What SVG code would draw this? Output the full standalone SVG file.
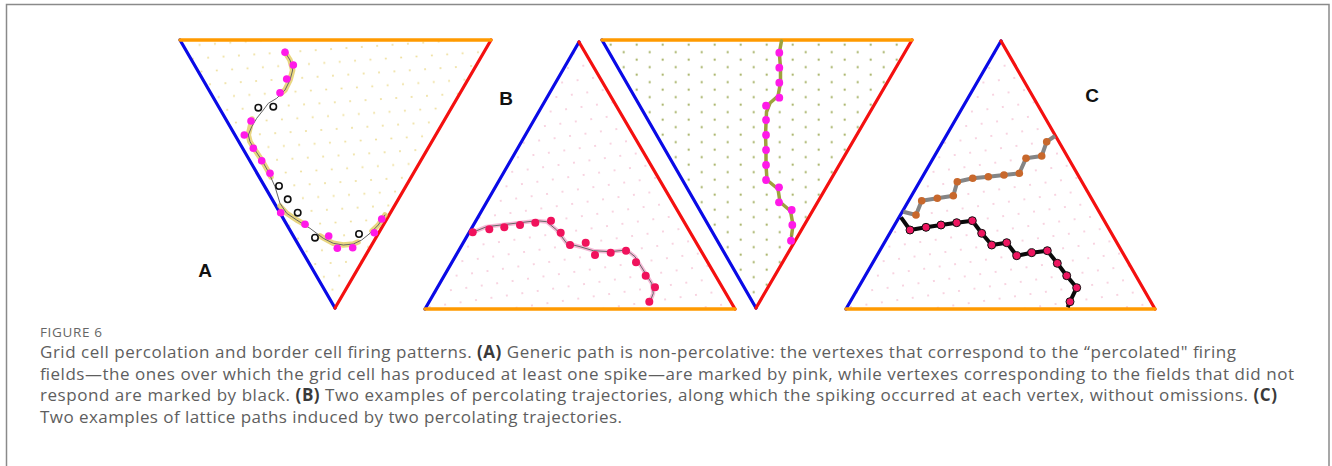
<svg xmlns="http://www.w3.org/2000/svg" width="1332" height="466" viewBox="0 0 1332 466">
<style>
.frame{fill:none;stroke:#8a8a8a;stroke-width:1.5}
.eo{stroke:#ff9a00;stroke-width:3.5;stroke-linecap:round}
.eb{stroke:#0a0ae6;stroke-width:3.2;stroke-linecap:round}
.er{stroke:#f41010;stroke-width:3.2;stroke-linecap:round}
.lbl{font-family:"Liberation Sans",Arial,sans-serif;font-weight:bold;font-size:19px;fill:#111;text-anchor:middle}
.cap{font-family:"Open Sans","Liberation Sans",sans-serif;font-size:17px;fill:#5e5e5e}
.b{font-weight:bold;fill:#3a3a3a}
.fig{font-family:"Open Sans","Liberation Sans",sans-serif;font-size:13.5px;fill:#666}
.thin{fill:none;stroke:#666;stroke-width:1;stroke-linejoin:round;stroke-linecap:round}
.hlY{fill:none;stroke:#e4cc62;stroke-width:5.5;stroke-opacity:0.8;stroke-linejoin:round;stroke-linecap:round}
.hlP{fill:none;stroke:#f2a8cc;stroke-width:4;stroke-opacity:0.8;stroke-linejoin:round;stroke-linecap:round}
.hlO{fill:none;stroke:#9ea23c;stroke-width:3.5;stroke-linejoin:round;stroke-linecap:round}
.pm{fill:#ff1ae8}
.po{fill:#fff;stroke:#111;stroke-width:1.6}
.pc{fill:#f0125c}
.pathG{fill:none;stroke:#858585;stroke-width:4;stroke-linejoin:round}
.pathK{fill:none;stroke:#0a0a0a;stroke-width:4;stroke-linejoin:round}
.db{fill:#c8682c}
.dk{fill:#ee1660;stroke:#111;stroke-width:1}
</style>
<defs>
<pattern id="latA" width="15.4" height="26.67" patternUnits="userSpaceOnUse" patternTransform="translate(285 52.3) rotate(-4)">
<g fill="#efe0a0"><circle cx="0" cy="0" r="1.1"/><circle cx="15.4" cy="0" r="1.1"/><circle cx="0" cy="26.67" r="1.1"/><circle cx="15.4" cy="26.67" r="1.1"/><circle cx="7.7" cy="13.34" r="1.1"/></g>
</pattern>
<pattern id="latBL" width="15.6" height="27.02" patternUnits="userSpaceOnUse" patternTransform="translate(551 220.7) rotate(-8.4)">
<g fill="#f6c4d6"><circle cx="0" cy="0" r="1"/><circle cx="15.6" cy="0" r="1"/><circle cx="0" cy="27.02" r="1"/><circle cx="15.6" cy="27.02" r="1"/><circle cx="7.8" cy="13.51" r="1"/></g>
</pattern>
<pattern id="latC" width="15.6" height="27.02" patternUnits="userSpaceOnUse" patternTransform="translate(972.3 220.7) rotate(-8.4)">
<g fill="#f6c4d6"><circle cx="0" cy="0" r="1"/><circle cx="15.6" cy="0" r="1"/><circle cx="0" cy="27.02" r="1"/><circle cx="15.6" cy="27.02" r="1"/><circle cx="7.8" cy="13.51" r="1"/></g>
</pattern>
<pattern id="latBR" width="26" height="15" patternUnits="userSpaceOnUse" patternTransform="translate(610.7 44.7)">
<g fill="#a9b46a"><circle cx="0" cy="0" r="1.15"/><circle cx="26" cy="0" r="1.15"/><circle cx="0" cy="15" r="1.15"/><circle cx="26" cy="15" r="1.15"/><circle cx="13" cy="7.5" r="1.15"/></g>
</pattern>
</defs>

<rect class="frame" x="6.5" y="4.5" width="1322.5" height="480"/>

<g id="panelA">
<polygon points="180,40 491,40 335,308" fill="url(#latA)"/>
<line class="eb" x1="180" y1="40" x2="335" y2="308"/>
<line class="er" x1="491" y1="40" x2="335" y2="308"/>
<line class="eo" x1="180" y1="40" x2="491" y2="40"/>
<text class="lbl" x="205" y="277">A</text>
</g>

<g id="panelB1">
<polygon points="579,42 425,309 735,309" fill="url(#latBL)"/>
<line class="eb" x1="579" y1="42" x2="425" y2="309"/>
<line class="er" x1="579" y1="42" x2="735" y2="309"/>
<line class="eo" x1="425" y1="309" x2="735" y2="309"/>
<text class="lbl" x="506" y="105">B</text>
</g>

<g id="panelB2">
<polygon points="602,40 912,40 756,308" fill="url(#latBR)"/>
<line class="eb" x1="602" y1="40" x2="756" y2="308"/>
<line class="er" x1="912" y1="40" x2="756" y2="308"/>
<line class="eo" x1="602" y1="40" x2="912" y2="40"/>
</g>

<g id="panelC">
<polygon points="1001,41 846,309 1155,309" fill="url(#latC)"/>
<line class="eb" x1="1001" y1="41" x2="846" y2="309"/>
<line class="er" x1="1001" y1="41" x2="1155" y2="309"/>
<line class="eo" x1="846" y1="309" x2="1155" y2="309"/>
<text class="lbl" x="1092" y="102">C</text>
</g>

<g id="connectors">
<!-- Panel A trajectory -->
<polyline class="hlY" points="285,52.3 290,60 292.7,70 290,80 285,90 280,94"/>
<polyline class="hlY" points="252,119 248.3,135 250,141.7 255,150 261.7,160 268.3,171.7 271,177"/>
<polyline class="hlY" points="280,206 286.7,213.3 296.7,220 306,225"/>
<polyline class="hlY" points="320,236 333.3,243.3 343.3,245 353.3,244 358,242"/>
<polyline class="hlY" points="372,231 378.3,225 385,215"/>
<polyline class="thin" points="285,49 285,52.3 290,60 292.7,70 290,80 285,90 276.7,98.3 268.3,103.3 263.3,110 256.7,118.3 251.7,126.7 248.3,135 250,141.7 255,150 261.7,160 268.3,171.7 275,186.7 280,203.3 286.7,213.3 296.7,220 310,228.3 323.3,238.3 333.3,243.3 343.3,245 353.3,244 361.7,240 370,233.3 378.3,225 385,215"/>
<g class="pm">
<circle cx="285" cy="52.3" r="3.8"/><circle cx="293.3" cy="65" r="3.8"/><circle cx="286.7" cy="79" r="3.8"/><circle cx="280" cy="92.7" r="3.8"/>
<circle cx="251" cy="121" r="3.8"/><circle cx="244.3" cy="135" r="3.8"/><circle cx="253.3" cy="148.3" r="3.8"/><circle cx="261.7" cy="160.7" r="3.8"/><circle cx="270" cy="173.3" r="3.8"/>
<circle cx="280.7" cy="212.7" r="3.8"/><circle cx="305" cy="224.3" r="3.8"/><circle cx="328.7" cy="236" r="3.8"/><circle cx="337.3" cy="248.3" r="3.8"/><circle cx="352.7" cy="247.7" r="3.8"/><circle cx="374.3" cy="232.7" r="3.8"/><circle cx="381.7" cy="219" r="3.8"/>
</g>
<g class="po">
<circle cx="258.3" cy="107.7" r="3.2"/><circle cx="273.3" cy="106.7" r="3.2"/><circle cx="279" cy="186" r="3.2"/><circle cx="287.7" cy="199.3" r="3.2"/><circle cx="297.7" cy="212.7" r="3.2"/><circle cx="315" cy="237.7" r="3.2"/><circle cx="359" cy="234" r="3.2"/>
</g>

<!-- Panel B left trajectory -->
<polyline class="hlP" points="472.7,232.3 486.7,226.7 506.7,224.3 520,222.7 536.7,220.7 546.7,221.7 556.7,230 566.7,243.3 580,246.7 593.3,250.7 610,251.7 626.7,250 635,256.7 643.3,270 651.7,283.3 653.3,293.3 650,301.7"/>
<polyline class="thin" points="472.7,232.3 486.7,226.7 506.7,224.3 520,222.7 536.7,220.7 546.7,221.7 556.7,230 566.7,243.3 580,246.7 593.3,250.7 610,251.7 626.7,250 635,256.7 643.3,270 651.7,283.3 653.3,293.3 650,301.7"/>
<g class="pc">
<circle cx="472.7" cy="232.3" r="4"/><circle cx="489.3" cy="229.3" r="4"/><circle cx="504.3" cy="227.3" r="4"/><circle cx="520" cy="225" r="4"/><circle cx="535.3" cy="222.7" r="4"/><circle cx="551" cy="220.7" r="4"/><circle cx="560.7" cy="232.7" r="4"/><circle cx="570" cy="245" r="4"/><circle cx="585.7" cy="242.7" r="4"/><circle cx="595" cy="255" r="4"/><circle cx="610.7" cy="252.7" r="4"/><circle cx="626" cy="250.7" r="4"/><circle cx="636" cy="262.3" r="4"/><circle cx="645.7" cy="275.7" r="4"/><circle cx="655" cy="287.3" r="4"/><circle cx="649.3" cy="301.7" r="4"/>
</g>

<!-- Panel B right trajectory -->
<polyline class="hlO" points="781.5,41 779.3,52.7 780.5,67.7 780.5,82.7 778,96 770,103 766.5,112 765.5,135 766,150 766,165 767,180 778,189 780,202 790.5,211 793,225 791.5,236"/>
<polyline class="thin" points="791.5,236 791,244"/>
<g class="pm">
<circle cx="779.3" cy="52.7" r="3.9"/><circle cx="779.3" cy="67.7" r="3.9"/><circle cx="779.3" cy="82.7" r="3.9"/><circle cx="779.3" cy="97.7" r="3.9"/><circle cx="766" cy="105.7" r="3.9"/><circle cx="766" cy="120" r="3.9"/><circle cx="766" cy="135" r="3.9"/><circle cx="766" cy="150" r="3.9"/><circle cx="766" cy="165" r="3.9"/><circle cx="766" cy="180" r="3.9"/><circle cx="779" cy="187.3" r="3.9"/><circle cx="779" cy="202.3" r="3.9"/><circle cx="791.7" cy="210" r="3.9"/><circle cx="792.3" cy="225" r="3.9"/><circle cx="791" cy="240.7" r="3.9"/>
</g>

<!-- Panel C lattice paths -->
<polyline class="pathG" points="903.3,211.7 916,215 921.7,200.7 937.3,198.3 953.3,195.7 957.3,181.7 972.7,178.3 988.3,176.7 1004,175 1019.3,173.3 1026,158.3 1041.7,156 1046.7,141.7 1055,136"/>
<g class="db">
<circle cx="916" cy="215" r="3.8"/><circle cx="921.7" cy="200.7" r="3.8"/><circle cx="937.3" cy="198.3" r="3.8"/><circle cx="953.3" cy="195.7" r="3.8"/><circle cx="957.3" cy="181.7" r="3.8"/><circle cx="972.7" cy="178.3" r="3.8"/><circle cx="988.3" cy="176.7" r="3.8"/><circle cx="1004" cy="175" r="3.8"/><circle cx="1019.3" cy="173.3" r="3.8"/><circle cx="1026" cy="158.3" r="3.8"/><circle cx="1041.7" cy="156" r="3.8"/><circle cx="1046.7" cy="141.7" r="3.8"/>
</g>
<polyline class="pathK" points="901,217.3 910,230 926,227.3 941,225 956.7,222.7 972.3,220.7 981.7,233.3 991.7,245 1006.7,242.7 1016.7,255.7 1031.7,252.7 1047.3,250.7 1057.3,263.3 1066.7,275.7 1076.7,287.7 1070,301.7 1067.7,307.3"/>
<g class="dk">
<circle cx="910" cy="230" r="4"/><circle cx="926" cy="227.3" r="4"/><circle cx="941" cy="225" r="4"/><circle cx="956.7" cy="222.7" r="4"/><circle cx="972.3" cy="220.7" r="4"/><circle cx="981.7" cy="233.3" r="4"/><circle cx="991.7" cy="245" r="4"/><circle cx="1006.7" cy="242.7" r="4"/><circle cx="1016.7" cy="255.7" r="4"/><circle cx="1031.7" cy="252.7" r="4"/><circle cx="1047.3" cy="250.7" r="4"/><circle cx="1057.3" cy="263.3" r="4"/><circle cx="1066.7" cy="275.7" r="4"/><circle cx="1076.7" cy="287.7" r="4"/><circle cx="1070" cy="301.7" r="4"/>
</g>
</g>

<g id="caption">
<text class="fig" x="40" y="336.5" textLength="62">FIGURE 6</text>
<text class="cap" x="40" y="358" textLength="1196">Grid cell percolation and border cell firing patterns. <tspan class="b">(A)</tspan> Generic path is non-percolative: the vertexes that correspond to the “percolated" firing</text>
<text class="cap" x="40" y="379.5" textLength="1254">fields—the ones over which the grid cell has produced at least one spike—are marked by pink, while vertexes corresponding to the fields that did not</text>
<text class="cap" x="40" y="401" textLength="1237">respond are marked by black. <tspan class="b">(B)</tspan> Two examples of percolating trajectories, along which the spiking occurred at each vertex, without omissions. <tspan class="b">(C)</tspan></text>
<text class="cap" x="40" y="422.5" textLength="582">Two examples of lattice paths induced by two percolating trajectories.</text>
</g>
</svg>
